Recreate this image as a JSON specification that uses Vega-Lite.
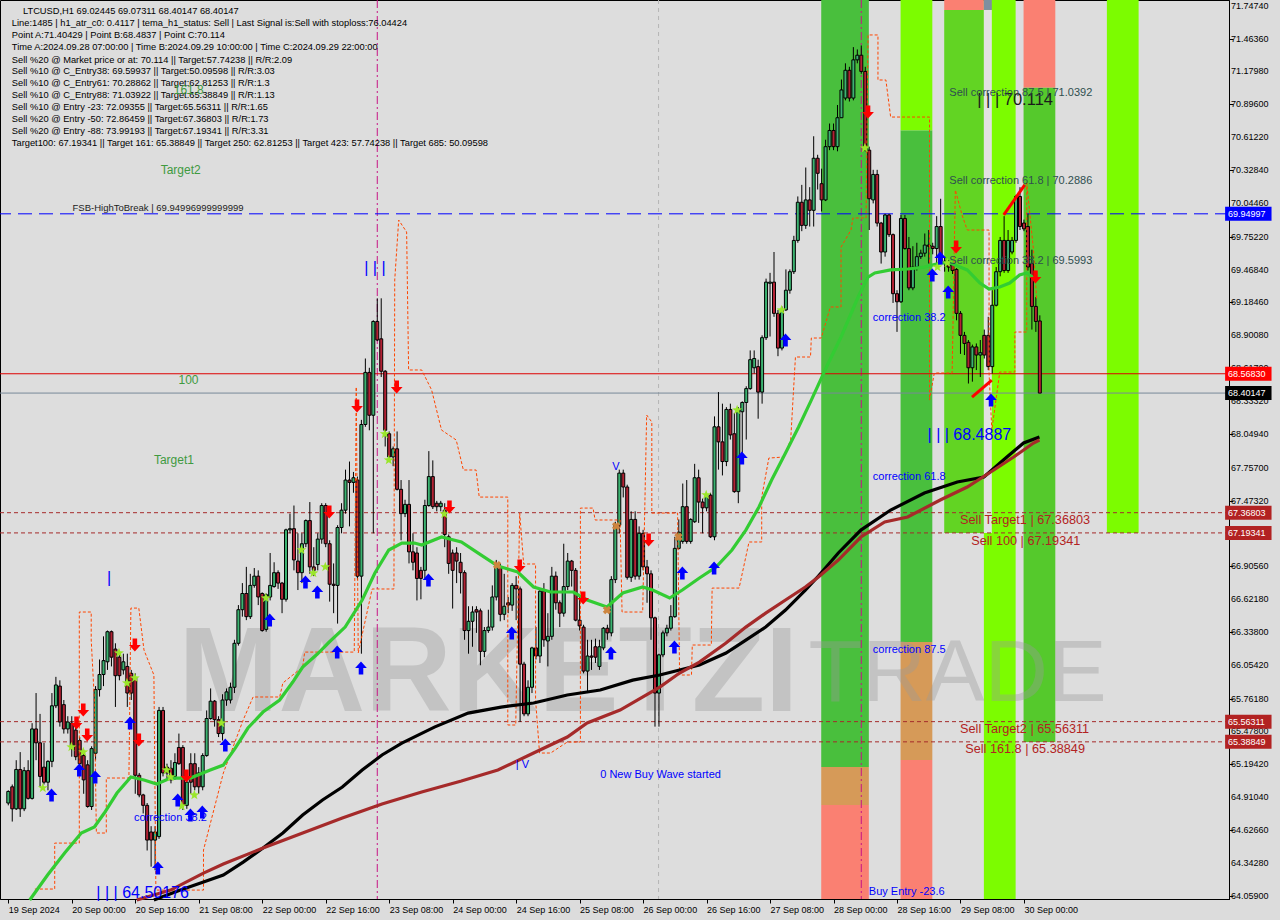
{
"$schema":"https://vega.github.io/schema/vega-lite/v6.json",
"width":1229,"height":899,
"autosize":{"type":"none"},
"padding":{"left":0,"top":0,"right":51,"bottom":21},
"background":"#dcdcdc",
"config":{"view":{"stroke":"#000000","strokeWidth":1,"fill":"#dddddd"},"font":"Liberation Sans",
 "axis":{"labelOverlap":false,"labelFlush":false,"grid":false,"title":null,"labelFontSize":9,"labelFont":"Liberation Sans","labelColor":"#000000","tickColor":"#000000","domainColor":"#000000","tickSize":4}},
"resolve":{"scale":{"color":"independent"}},
"datasets":{
"bands":[
{"h1":204.9,"h2":216.9,"p1":65.171,"p2":71.797,"k":"green"},
{"h1":204.9,"h2":216.9,"p1":64.843,"p2":65.171,"k":"orange"},
{"h1":204.9,"h2":216.9,"p1":64.031,"p2":64.843,"k":"salmon"},
{"h1":224.9,"h2":232.9,"p1":70.67,"p2":71.797,"k":"lime"},
{"h1":224.9,"h2":232.9,"p1":66.251,"p2":70.67,"k":"green"},
{"h1":224.9,"h2":232.9,"p1":65.231,"p2":66.251,"k":"orange"},
{"h1":224.9,"h2":232.9,"p1":64.031,"p2":65.231,"k":"salmon"},
{"h1":235.9,"h2":245.9,"p1":71.711,"p2":71.797,"k":"salmon"},
{"h1":235.9,"h2":245.9,"p1":67.193,"p2":71.711,"k":"green2"},
{"h1":245.9,"h2":253.9,"p1":64.031,"p2":71.797,"k":"lime"},
{"h1":245.9,"h2":247.9,"p1":67.193,"p2":71.711,"k":"gray"},
{"h1":245.9,"h2":247.9,"p1":71.711,"p2":71.797,"k":"slate"},
{"h1":255.9,"h2":263.9,"p1":71.039,"p2":71.797,"k":"salmon"},
{"h1":255.9,"h2":263.9,"p1":65.388,"p2":71.039,"k":"green3"},
{"h1":276.9,"h2":284.9,"p1":67.193,"p2":71.797,"k":"lime"}
],
"wm":[{"h":42.9,"p":65.97,"t":"MARKETZI","k":"b"},{"h":201.7,"p":65.97,"t":"TRADE","k":"n"}],
"lv":[{"p":69.94997,"k":"fsb"},{"p":68.5683,"k":"cur"},{"p":68.40147,"k":"bid"},{"p":67.36803,"k":"tg"},{"p":67.19341,"k":"tg"},{"p":65.56311,"k":"tg"},{"p":65.38849,"k":"tg"}],
"vl":[{"h":93.0,"k":"mv"},{"h":215.0,"k":"mv"},{"h":163.9,"k":"gr"}],
"yl":[{"p":71.7474,"t":"71.74740"},{"p":71.4636,"t":"71.46360"},{"p":71.1798,"t":"71.17980"},{"p":70.896,"t":"70.89600"},{"p":70.6122,"t":"70.61220"},{"p":70.3284,"t":"70.32840"},{"p":70.0446,"t":"70.04460"},{"p":69.7522,"t":"69.75220"},{"p":69.4684,"t":"69.46840"},{"p":69.1846,"t":"69.18460"},{"p":68.9008,"t":"68.90080"},{"p":68.617,"t":"68.61700"},{"p":68.3332,"t":"68.33320"},{"p":68.0494,"t":"68.04940"},{"p":67.757,"t":"67.75700"},{"p":67.4732,"t":"67.47320"},{"p":67.1894,"t":"67.18940"},{"p":66.9056,"t":"66.90560"},{"p":66.6218,"t":"66.62180"},{"p":66.338,"t":"66.33800"},{"p":66.0542,"t":"66.05420"},{"p":65.7618,"t":"65.76180"},{"p":65.478,"t":"65.47800"},{"p":65.1942,"t":"65.19420"},{"p":64.9104,"t":"64.91040"},{"p":64.6266,"t":"64.62660"},{"p":64.3428,"t":"64.34280"},{"p":64.059,"t":"64.05900"}],
"stl":[
{"k":1,"h":6.7,"p":64.117},{"k":2,"h":11.7,"p":64.117},{"k":3,"h":11.7,"p":64.514},{"k":4,"h":17.9,"p":64.514},{"k":5,"h":17.9,"p":66.51},{"k":6,"h":20.9,"p":66.51},{"k":7,"h":20.9,"p":66.268},{"k":8,"h":21.7,"p":65.75},{"k":9,"h":22.2,"p":64.601},{"k":10,"h":24.7,"p":64.601},
{"k":11,"h":24.7,"p":65.076},{"k":12,"h":30.4,"p":65.076},{"k":13,"h":30.9,"p":66.544},{"k":14,"h":32.9,"p":66.544},{"k":15,"h":34.2,"p":66.182},{"k":16,"h":36.7,"p":65.966},{"k":17,"h":37.2,"p":64.108},{"k":18,"h":49.2,"p":64.108},{"k":19,"h":49.2,"p":64.454},{"k":20,"h":54.2,"p":65.119},
{"k":21,"h":59.2,"p":65.577},{"k":22,"h":61.7,"p":65.776},{"k":23,"h":68.4,"p":65.776},{"k":24,"h":69.2,"p":65.897},{"k":25,"h":74.2,"p":66.035},{"k":26,"h":74.7,"p":66.164},{"k":27,"h":87.2,"p":66.164},{"k":28,"h":87.7,"p":68.454},{"k":29,"h":88.2,"p":66.156},{"k":30,"h":91.7,"p":66.709},
{"k":31,"h":97.2,"p":66.709},{"k":32,"h":97.4,"p":69.378},{"k":33,"h":98.4,"p":69.896},{"k":34,"h":100.4,"p":69.793},{"k":35,"h":100.9,"p":68.601},{"k":36,"h":104.2,"p":68.601},{"k":37,"h":106.7,"p":68.428},{"k":38,"h":109.2,"p":68.082},{"k":39,"h":112.9,"p":67.996},{"k":40,"h":114.7,"p":67.737},
{"k":41,"h":117.9,"p":67.737},{"k":42,"h":118.7,"p":67.503},{"k":43,"h":125.9,"p":67.503},{"k":44,"h":125.9,"p":65.534},{"k":45,"h":127.9,"p":65.534},{"k":46,"h":128.9,"p":67.365},{"k":47,"h":129.9,"p":66.925},{"k":48,"h":132.9,"p":66.925},{"k":49,"h":132.9,"p":65.75},{"k":50,"h":133.9,"p":65.292},
{"k":51,"h":136.7,"p":65.292},{"k":52,"h":140.9,"p":65.387},{"k":53,"h":144.2,"p":65.387},{"k":54,"h":144.2,"p":67.408},{"k":55,"h":147.4,"p":67.408},{"k":56,"h":147.9,"p":67.305},{"k":57,"h":154.2,"p":67.305},{"k":58,"h":154.7,"p":66.51},{"k":59,"h":159.9,"p":66.51},{"k":60,"h":160.9,"p":68.212},
{"k":61,"h":162.2,"p":68.151},{"k":62,"h":162.2,"p":67.365},{"k":63,"h":168.7,"p":67.365},{"k":64,"h":169.2,"p":65.966},{"k":65,"h":172.2,"p":65.966},{"k":66,"h":172.4,"p":66.225},{"k":67,"h":177.2,"p":66.225},{"k":68,"h":177.4,"p":66.717},{"k":69,"h":184.2,"p":66.717},{"k":70,"h":186.7,"p":67.115},
{"k":71,"h":189.9,"p":67.115},{"k":72,"h":189.9,"p":67.503},{"k":73,"h":191.7,"p":67.84},{"k":74,"h":195.4,"p":67.849},{"k":75,"h":197.2,"p":67.996},{"k":76,"h":198.4,"p":68.713},{"k":77,"h":202.2,"p":68.713},{"k":78,"h":202.4,"p":68.877},{"k":79,"h":204.9,"p":68.877},{"k":80,"h":207.2,"p":69.145},
{"k":81,"h":209.9,"p":69.145},{"k":82,"h":209.9,"p":69.663},{"k":83,"h":212.4,"p":69.81},{"k":84,"h":212.9,"p":69.914},{"k":85,"h":216.2,"p":69.914},{"k":86,"h":216.7,"p":71.495},{"k":87,"h":219.2,"p":71.495},{"k":88,"h":219.2,"p":71.106},{"k":89,"h":221.2,"p":71.106},{"k":90,"h":222.4,"p":70.786},
{"k":91,"h":232.2,"p":70.786},{"k":92,"h":232.2,"p":68.341},{"k":93,"h":233.4,"p":68.575},{"k":94,"h":237.9,"p":68.575},{"k":95,"h":238.7,"p":70.156},{"k":96,"h":240.4,"p":69.94},{"k":97,"h":241.7,"p":69.81},{"k":98,"h":247.2,"p":69.81},{"k":99,"h":247.2,"p":68.575},{"k":100,"h":247.9,"p":68.082},
{"k":101,"h":249.9,"p":68.583},{"k":102,"h":253.7,"p":68.583},{"k":103,"h":253.7,"p":68.929},{"k":104,"h":256.7,"p":68.929},{"k":105,"h":256.7,"p":70.216},{"k":106,"h":258.4,"p":69.637},{"k":107,"h":259.2,"p":69.205}
],
"ma":[
{"s":"g","h":5.4,"p":64.022},{"s":"g","h":9.9,"p":64.238},{"s":"g","h":14.2,"p":64.428},{"s":"g","h":18.4,"p":64.601},{"s":"g","h":21.7,"p":64.653},{"s":"g","h":24.2,"p":64.774},{"s":"g","h":27.4,"p":64.946},{"s":"g","h":30.9,"p":65.085},{"s":"g","h":34.2,"p":65.059},{"s":"g","h":37.4,"p":65.024},{"s":"g","h":40.9,"p":65.076},{"s":"g","h":45.9,"p":65.076},{"s":"g","h":50.9,"p":65.145},{"s":"g","h":54.2,"p":65.188},{"s":"g","h":57.2,"p":65.335},{"s":"g","h":60.4,"p":65.508},{"s":"g","h":64.2,"p":65.646},{"s":"g","h":68.4,"p":65.75},{"s":"g","h":71.7,"p":65.905},{"s":"g","h":74.2,"p":66.035},{"s":"g","h":77.9,"p":66.147},{"s":"g","h":80.9,"p":66.251},{"s":"g","h":84.9,"p":66.38},{"s":"g","h":89.2,"p":66.614},{"s":"g","h":92.4,"p":66.847},{"s":"g","h":95.9,"p":67.046},{"s":"g","h":99.2,"p":67.106},{"s":"g","h":102.4,"p":67.106},{"s":"g","h":104.2,"p":67.089},{"s":"g","h":109.2,"p":67.158},{"s":"g","h":114.2,"p":67.115},{"s":"g","h":119.2,"p":67.002},{"s":"g","h":123.4,"p":66.907},{"s":"g","h":128.4,"p":66.856},{"s":"g","h":132.4,"p":66.726},{"s":"g","h":136.7,"p":66.683},{"s":"g","h":142.4,"p":66.683},{"s":"g","h":145.9,"p":66.614},{"s":"g","h":150.9,"p":66.553},{"s":"g","h":154.9,"p":66.674},{"s":"g","h":159.9,"p":66.726},{"s":"g","h":162.4,"p":66.7},{"s":"g","h":166.7,"p":66.631},{"s":"g","h":169.9,"p":66.7},{"s":"g","h":174.2,"p":66.804},{"s":"g","h":178.4,"p":66.899},{"s":"g","h":182.4,"p":67.046},{"s":"g","h":185.9,"p":67.218},{"s":"g","h":189.2,"p":67.417},{"s":"g","h":192.4,"p":67.65},{"s":"g","h":195.9,"p":67.884},{"s":"g","h":199.2,"p":68.108},{"s":"g","h":202.4,"p":68.341},{"s":"g","h":206.7,"p":68.661},{"s":"g","h":209.9,"p":68.886},{"s":"g","h":214.2,"p":69.231},{"s":"g","h":216.7,"p":69.404},{"s":"g","h":218.4,"p":69.439},{"s":"g","h":222.4,"p":69.465},{"s":"g","h":226.7,"p":69.473},{"s":"g","h":230.9,"p":69.49},{"s":"g","h":234.9,"p":69.525},{"s":"g","h":237.4,"p":69.525},{"s":"g","h":241.7,"p":69.465},{"s":"g","h":244.9,"p":69.352},{"s":"g","h":247.2,"p":69.3},{"s":"g","h":249.9,"p":69.318},{"s":"g","h":252.4,"p":69.352},{"s":"g","h":254.9,"p":69.421},{"s":"g","h":256.7,"p":69.439},{"s":"g","h":259.2,"p":69.378},
{"s":"k","h":36.7,"p":64.022},{"s":"k","h":43.4,"p":64.108},{"s":"k","h":49.2,"p":64.177},{"s":"k","h":54.2,"p":64.238},{"s":"k","h":59.2,"p":64.35},{"s":"k","h":64.2,"p":64.471},{"s":"k","h":69.2,"p":64.601},{"s":"k","h":74.2,"p":64.756},{"s":"k","h":79.2,"p":64.886},{"s":"k","h":84.2,"p":64.998},{"s":"k","h":89.2,"p":65.145},{"s":"k","h":94.2,"p":65.275},{"s":"k","h":99.2,"p":65.378},{"s":"k","h":107.4,"p":65.516},{"s":"k","h":115.9,"p":65.637},{"s":"k","h":124.2,"p":65.689},{"s":"k","h":132.4,"p":65.724},{"s":"k","h":140.9,"p":65.793},{"s":"k","h":149.2,"p":65.836},{"s":"k","h":157.4,"p":65.922},{"s":"k","h":164.2,"p":65.966},{"s":"k","h":174.2,"p":66.052},{"s":"k","h":180.9,"p":66.156},{"s":"k","h":185.9,"p":66.268},{"s":"k","h":190.9,"p":66.38},{"s":"k","h":195.9,"p":66.527},{"s":"k","h":200.9,"p":66.7},{"s":"k","h":204.2,"p":66.821},{"s":"k","h":209.2,"p":67.02},{"s":"k","h":214.9,"p":67.218},{"s":"k","h":222.4,"p":67.391},{"s":"k","h":230.9,"p":67.538},{"s":"k","h":239.2,"p":67.633},{"s":"k","h":245.9,"p":67.676},{"s":"k","h":251.7,"p":67.849},{"s":"k","h":255.9,"p":67.97},{"s":"k","h":259.9,"p":68.022},
{"s":"r","h":32.4,"p":64.022},{"s":"r","h":40.9,"p":64.108},{"s":"r","h":49.2,"p":64.255},{"s":"r","h":54.2,"p":64.333},{"s":"r","h":64.2,"p":64.471},{"s":"r","h":74.2,"p":64.601},{"s":"r","h":84.2,"p":64.73},{"s":"r","h":94.2,"p":64.851},{"s":"r","h":104.2,"p":64.955},{"s":"r","h":114.2,"p":65.05},{"s":"r","h":123.4,"p":65.145},{"s":"r","h":132.4,"p":65.292},{"s":"r","h":140.9,"p":65.43},{"s":"r","h":145.9,"p":65.551},{"s":"r","h":154.2,"p":65.663},{"s":"r","h":164.2,"p":65.862},{"s":"r","h":169.2,"p":65.983},{"s":"r","h":174.2,"p":66.078},{"s":"r","h":180.9,"p":66.242},{"s":"r","h":185.9,"p":66.38},{"s":"r","h":190.9,"p":66.501},{"s":"r","h":195.9,"p":66.614},{"s":"r","h":200.9,"p":66.726},{"s":"r","h":204.2,"p":66.812},{"s":"r","h":209.2,"p":66.959},{"s":"r","h":214.9,"p":67.158},{"s":"r","h":220.9,"p":67.288},{"s":"r","h":226.7,"p":67.331},{"s":"r","h":234.9,"p":67.478},{"s":"r","h":241.7,"p":67.59},{"s":"r","h":248.4,"p":67.737},{"s":"r","h":253.4,"p":67.849},{"s":"r","h":258.4,"p":67.97},{"s":"r","h":259.9,"p":67.996}
],
"cd":[
{"h":0,"o":64.86,"hi":64.97,"lo":64.84,"c":64.96},{"h":1,"o":65.0,"hi":65.02,"lo":64.7,"c":64.81},{"h":2,"o":64.81,"hi":65.23,"lo":64.8,"c":65.15},{"h":3,"o":65.15,"hi":65.3,"lo":64.74,"c":64.81},{"h":4,"o":64.81,"hi":65.17,"lo":64.79,"c":65.14},{"h":5,"o":65.14,"hi":65.23,"lo":64.89,"c":64.9},{"h":6,"o":64.9,"hi":65.55,"lo":64.89,"c":65.5},{"h":7,"o":65.5,"hi":65.81,"lo":65.23,"c":65.38},{"h":8,"o":65.38,"hi":65.63,"lo":65.0,"c":65.09},{"h":9,"o":65.17,"hi":65.38,"lo":65.02,"c":65.04},
{"h":10,"o":65.04,"hi":65.23,"lo":64.97,"c":65.22},{"h":11,"o":65.22,"hi":65.81,"lo":65.17,"c":65.7},{"h":12,"o":65.7,"hi":65.95,"lo":65.68,"c":65.88},{"h":13,"o":65.87,"hi":65.92,"lo":65.52,"c":65.56},{"h":14,"o":65.71,"hi":65.75,"lo":65.46,"c":65.5},{"h":15,"o":65.5,"hi":65.61,"lo":65.46,"c":65.56},{"h":16,"o":65.55,"hi":65.61,"lo":65.26,"c":65.35},{"h":17,"o":65.49,"hi":65.52,"lo":65.23,"c":65.26},{"h":18,"o":65.4,"hi":65.43,"lo":65.12,"c":65.2},{"h":19,"o":65.27,"hi":65.32,"lo":64.94,"c":65.06},
{"h":20,"o":65.19,"hi":65.23,"lo":64.82,"c":64.83},{"h":21,"o":64.83,"hi":65.35,"lo":64.8,"c":65.33},{"h":22,"o":65.29,"hi":65.87,"lo":65.23,"c":65.84},{"h":23,"o":65.84,"hi":66.1,"lo":65.78,"c":65.97},{"h":24,"o":65.97,"hi":66.3,"lo":65.87,"c":66.09},{"h":25,"o":66.08,"hi":66.35,"lo":66.01,"c":66.34},{"h":26,"o":66.34,"hi":66.35,"lo":66.04,"c":66.12},{"h":27,"o":66.19,"hi":66.24,"lo":65.69,"c":65.96},{"h":28,"o":66.12,"hi":66.15,"lo":65.92,"c":65.96},{"h":29,"o":66.01,"hi":66.15,"lo":65.97,"c":66.08},
{"h":30,"o":66.04,"hi":66.15,"lo":65.69,"c":65.81},{"h":31,"o":65.98,"hi":66.01,"lo":65.75,"c":65.81},{"h":32,"o":65.94,"hi":65.98,"lo":64.94,"c":65.1},{"h":33,"o":65.1,"hi":65.12,"lo":64.91,"c":64.93},{"h":34,"o":64.93,"hi":64.94,"lo":64.77,"c":64.84},{"h":35,"o":64.84,"hi":64.86,"lo":64.45,"c":64.54},{"h":36,"o":64.61,"hi":64.66,"lo":64.31,"c":64.54},{"h":37,"o":64.54,"hi":64.66,"lo":64.28,"c":64.61},{"h":38,"o":64.57,"hi":65.69,"lo":64.55,"c":65.66},{"h":39,"o":65.66,"hi":65.69,"lo":65.09,"c":65.12},
{"h":40,"o":65.17,"hi":65.2,"lo":65.06,"c":65.12},{"h":41,"o":65.16,"hi":65.23,"lo":65.03,"c":65.06},{"h":42,"o":65.09,"hi":65.29,"lo":65.06,"c":65.21},{"h":43,"o":65.34,"hi":65.46,"lo":65.19,"c":65.2},{"h":44,"o":65.34,"hi":65.36,"lo":64.8,"c":64.84},{"h":45,"o":64.84,"hi":65.12,"lo":64.81,"c":65.04},{"h":46,"o":65.2,"hi":65.29,"lo":64.94,"c":65.04},{"h":47,"o":65.2,"hi":65.29,"lo":64.97,"c":65.0},{"h":48,"o":65.12,"hi":65.17,"lo":64.94,"c":65.0},{"h":49,"o":65.0,"hi":65.29,"lo":64.97,"c":65.27},
{"h":50,"o":65.27,"hi":65.66,"lo":65.26,"c":65.59},{"h":51,"o":65.59,"hi":65.85,"lo":65.58,"c":65.74},{"h":52,"o":65.74,"hi":65.75,"lo":65.52,"c":65.58},{"h":53,"o":65.58,"hi":65.61,"lo":65.43,"c":65.46},{"h":54,"o":65.46,"hi":65.8,"lo":65.4,"c":65.75},{"h":55,"o":65.75,"hi":65.85,"lo":65.7,"c":65.82},{"h":56,"o":65.75,"hi":65.9,"lo":65.72,"c":65.86},{"h":57,"o":65.86,"hi":66.27,"lo":65.81,"c":66.24},{"h":58,"o":66.24,"hi":66.57,"lo":66.22,"c":66.53},{"h":59,"o":66.53,"hi":66.76,"lo":66.47,"c":66.67},
{"h":60,"o":66.67,"hi":66.9,"lo":66.44,"c":66.47},{"h":61,"o":66.47,"hi":66.84,"lo":66.45,"c":66.74},{"h":62,"o":66.74,"hi":66.89,"lo":66.72,"c":66.82},{"h":63,"o":66.82,"hi":66.87,"lo":66.57,"c":66.64},{"h":64,"o":66.67,"hi":66.68,"lo":66.34,"c":66.35},{"h":65,"o":66.36,"hi":66.67,"lo":66.34,"c":66.66},{"h":66,"o":66.64,"hi":67.02,"lo":66.61,"c":66.74},{"h":67,"o":66.73,"hi":66.94,"lo":66.72,"c":66.85},{"h":68,"o":66.85,"hi":66.87,"lo":66.71,"c":66.76},{"h":69,"o":66.76,"hi":66.77,"lo":66.5,"c":66.62},
{"h":70,"o":66.62,"hi":67.23,"lo":66.6,"c":67.22},{"h":71,"o":67.22,"hi":67.36,"lo":67.19,"c":67.23},{"h":72,"o":67.23,"hi":67.43,"lo":66.87,"c":66.96},{"h":73,"o":66.95,"hi":67.19,"lo":66.7,"c":66.85},{"h":74,"o":66.85,"hi":67.19,"lo":66.76,"c":67.1},{"h":75,"o":67.1,"hi":67.31,"lo":67.07,"c":67.3},{"h":76,"o":67.3,"hi":67.46,"lo":66.84,"c":66.9},{"h":77,"o":66.9,"hi":67.07,"lo":66.82,"c":66.87},{"h":78,"o":66.92,"hi":67.19,"lo":66.87,"c":67.14},{"h":79,"o":67.14,"hi":67.45,"lo":67.1,"c":67.43},
{"h":80,"o":67.43,"hi":67.45,"lo":67.07,"c":67.1},{"h":81,"o":67.1,"hi":67.13,"lo":66.6,"c":66.75},{"h":82,"o":66.75,"hi":66.93,"lo":66.5,"c":66.74},{"h":83,"o":66.74,"hi":67.26,"lo":66.41,"c":67.24},{"h":84,"o":67.24,"hi":67.45,"lo":67.19,"c":67.39},{"h":85,"o":67.39,"hi":67.74,"lo":67.36,"c":67.65},{"h":86,"o":67.65,"hi":67.81,"lo":67.25,"c":67.63},{"h":87,"o":67.63,"hi":67.72,"lo":67.54,"c":67.67},{"h":88,"o":67.65,"hi":67.68,"lo":66.79,"c":66.82},{"h":89,"o":66.82,"hi":68.17,"lo":66.15,"c":68.13},
{"h":90,"o":68.13,"hi":68.7,"lo":68.11,"c":68.58},{"h":91,"o":68.58,"hi":68.62,"lo":68.08,"c":68.21},{"h":92,"o":68.21,"hi":69.03,"lo":67.19,"c":69.02},{"h":93,"o":69.02,"hi":69.22,"lo":68.85,"c":68.86},{"h":94,"o":68.87,"hi":69.22,"lo":68.54,"c":68.59},{"h":95,"o":68.59,"hi":68.6,"lo":67.94,"c":68.08},{"h":96,"o":68.05,"hi":68.07,"lo":67.82,"c":67.85},{"h":97,"o":67.85,"hi":67.94,"lo":67.77,"c":67.92},{"h":98,"o":67.92,"hi":68.07,"lo":67.56,"c":67.57},{"h":99,"o":67.57,"hi":67.65,"lo":67.13,"c":67.36},
{"h":100,"o":67.36,"hi":67.48,"lo":67.33,"c":67.44},{"h":101,"o":67.44,"hi":67.65,"lo":66.93,"c":67.03},{"h":102,"o":67.03,"hi":67.19,"lo":66.87,"c":66.94},{"h":103,"o":67.02,"hi":67.07,"lo":66.61,"c":66.8},{"h":104,"o":66.87,"hi":66.9,"lo":66.62,"c":66.8},{"h":105,"o":66.87,"hi":67.48,"lo":66.8,"c":67.43},{"h":106,"o":67.43,"hi":67.9,"lo":67.42,"c":67.68},{"h":107,"o":67.68,"hi":67.82,"lo":67.4,"c":67.42},{"h":108,"o":67.45,"hi":67.47,"lo":67.38,"c":67.42},{"h":109,"o":67.42,"hi":67.47,"lo":67.38,"c":67.45},
{"h":110,"o":67.39,"hi":67.45,"lo":67.07,"c":67.18},{"h":111,"o":67.16,"hi":67.18,"lo":66.84,"c":66.93},{"h":112,"o":67.02,"hi":67.05,"lo":66.54,"c":66.87},{"h":113,"o":67.02,"hi":67.07,"lo":66.76,"c":66.95},{"h":114,"o":66.94,"hi":67.02,"lo":66.67,"c":66.85},{"h":115,"o":66.85,"hi":66.87,"lo":66.27,"c":66.35},{"h":116,"o":66.35,"hi":66.56,"lo":66.15,"c":66.43},{"h":117,"o":66.43,"hi":66.56,"lo":66.21,"c":66.51},{"h":118,"o":66.53,"hi":66.56,"lo":66.33,"c":66.51},{"h":119,"o":66.52,"hi":66.54,"lo":66.05,"c":66.17},
{"h":120,"o":66.17,"hi":66.38,"lo":66.12,"c":66.35},{"h":121,"o":66.35,"hi":66.53,"lo":66.33,"c":66.38},{"h":122,"o":66.38,"hi":66.74,"lo":66.35,"c":66.64},{"h":123,"o":66.64,"hi":66.96,"lo":66.61,"c":66.9},{"h":124,"o":66.9,"hi":66.93,"lo":66.43,"c":66.49},{"h":125,"o":66.49,"hi":66.84,"lo":66.44,"c":66.56},{"h":126,"o":66.59,"hi":66.64,"lo":66.5,"c":66.57},{"h":127,"o":66.57,"hi":66.76,"lo":66.52,"c":66.74},{"h":128,"o":66.74,"hi":66.82,"lo":66.44,"c":66.71},{"h":129,"o":66.71,"hi":66.73,"lo":65.56,"c":66.06},
{"h":130,"o":66.06,"hi":66.08,"lo":65.61,"c":65.63},{"h":131,"o":65.63,"hi":65.92,"lo":65.61,"c":65.86},{"h":132,"o":65.86,"hi":66.21,"lo":65.81,"c":66.2},{"h":133,"o":66.2,"hi":66.38,"lo":66.1,"c":66.13},{"h":134,"o":66.13,"hi":66.7,"lo":66.07,"c":66.69},{"h":135,"o":66.69,"hi":66.76,"lo":66.21,"c":66.27},{"h":136,"o":66.26,"hi":66.5,"lo":66.04,"c":66.3},{"h":137,"o":66.3,"hi":66.9,"lo":66.27,"c":66.82},{"h":138,"o":66.82,"hi":66.86,"lo":66.53,"c":66.59},{"h":139,"o":66.59,"hi":66.61,"lo":66.38,"c":66.5},
{"h":140,"o":66.5,"hi":67.1,"lo":66.47,"c":66.73},{"h":141,"o":66.73,"hi":67.02,"lo":66.7,"c":66.95},{"h":142,"o":66.95,"hi":66.96,"lo":66.73,"c":66.87},{"h":143,"o":66.87,"hi":66.89,"lo":66.43,"c":66.44},{"h":144,"o":66.44,"hi":66.64,"lo":66.35,"c":66.39},{"h":145,"o":66.38,"hi":66.4,"lo":65.98,"c":66.0},{"h":146,"o":66.0,"hi":66.27,"lo":65.81,"c":66.13},{"h":147,"o":66.13,"hi":66.27,"lo":66.01,"c":66.12},{"h":148,"o":66.21,"hi":66.28,"lo":66.07,"c":66.12},{"h":149,"o":66.04,"hi":66.27,"lo":66.01,"c":66.21},
{"h":150,"o":66.2,"hi":66.38,"lo":66.18,"c":66.37},{"h":151,"o":66.37,"hi":66.4,"lo":66.27,"c":66.33},{"h":152,"o":66.33,"hi":66.82,"lo":66.3,"c":66.79},{"h":153,"o":66.79,"hi":67.29,"lo":66.76,"c":67.26},{"h":154,"o":67.26,"hi":67.74,"lo":67.19,"c":67.71},{"h":155,"o":67.71,"hi":67.74,"lo":67.5,"c":67.59},{"h":156,"o":67.59,"hi":67.61,"lo":66.79,"c":66.81},{"h":157,"o":66.81,"hi":67.38,"lo":66.77,"c":67.31},{"h":158,"o":67.31,"hi":67.38,"lo":66.79,"c":66.82},{"h":159,"o":66.82,"hi":67.25,"lo":66.79,"c":67.19},
{"h":160,"o":67.19,"hi":67.22,"lo":66.87,"c":66.9},{"h":161,"o":66.9,"hi":66.96,"lo":66.59,"c":66.84},{"h":162,"o":66.84,"hi":66.87,"lo":66.27,"c":66.46},{"h":163,"o":66.46,"hi":66.47,"lo":65.52,"c":65.81},{"h":164,"o":65.81,"hi":66.15,"lo":65.52,"c":66.14},{"h":165,"o":66.14,"hi":66.35,"lo":66.12,"c":66.33},{"h":166,"o":66.33,"hi":66.4,"lo":66.3,"c":66.37},{"h":167,"o":66.37,"hi":66.57,"lo":66.35,"c":66.47},{"h":168,"o":66.47,"hi":67.16,"lo":66.46,"c":67.06},{"h":169,"o":67.06,"hi":67.31,"lo":67.05,"c":67.2},
{"h":170,"o":67.12,"hi":67.62,"lo":67.1,"c":67.42},{"h":171,"o":67.42,"hi":67.65,"lo":67.1,"c":67.12},{"h":172,"o":67.12,"hi":67.32,"lo":67.1,"c":67.31},{"h":173,"o":67.29,"hi":67.79,"lo":67.28,"c":67.67},{"h":174,"o":67.67,"hi":67.74,"lo":67.28,"c":67.46},{"h":175,"o":67.46,"hi":67.49,"lo":67.19,"c":67.41},{"h":176,"o":67.41,"hi":67.52,"lo":67.38,"c":67.51},{"h":177,"o":67.52,"hi":67.54,"lo":67.15,"c":67.16},{"h":178,"o":67.16,"hi":68.2,"lo":67.13,"c":68.11},{"h":179,"o":68.11,"hi":68.41,"lo":67.74,"c":67.98},
{"h":180,"o":67.98,"hi":68.31,"lo":67.69,"c":67.81},{"h":181,"o":67.81,"hi":68.28,"lo":67.77,"c":68.26},{"h":182,"o":68.26,"hi":68.31,"lo":68.0,"c":68.04},{"h":183,"o":68.05,"hi":68.23,"lo":67.54,"c":67.55},{"h":184,"o":67.55,"hi":68.28,"lo":67.45,"c":68.25},{"h":185,"o":68.24,"hi":68.33,"lo":67.88,"c":68.32},{"h":186,"o":68.32,"hi":68.46,"lo":68.0,"c":68.44},{"h":187,"o":68.44,"hi":68.77,"lo":68.43,"c":68.69},{"h":188,"o":68.62,"hi":68.77,"lo":68.57,"c":68.7},{"h":189,"o":68.63,"hi":68.69,"lo":68.18,"c":68.41},
{"h":190,"o":68.41,"hi":68.9,"lo":68.31,"c":68.88},{"h":191,"o":68.88,"hi":69.39,"lo":68.86,"c":69.36},{"h":192,"o":69.35,"hi":69.44,"lo":68.89,"c":69.36},{"h":193,"o":69.36,"hi":69.62,"lo":69.06,"c":69.09},{"h":194,"o":69.09,"hi":69.12,"lo":68.72,"c":68.79},{"h":195,"o":68.79,"hi":69.15,"lo":68.77,"c":69.12},{"h":196,"o":69.12,"hi":69.47,"lo":69.11,"c":69.29},{"h":197,"o":69.29,"hi":69.47,"lo":69.26,"c":69.45},{"h":198,"o":69.45,"hi":69.76,"lo":69.43,"c":69.72},{"h":199,"o":69.72,"hi":70.1,"lo":69.7,"c":70.05},
{"h":200,"o":70.05,"hi":70.2,"lo":69.8,"c":69.85},{"h":201,"o":69.85,"hi":70.35,"lo":69.82,"c":70.07},{"h":202,"o":70.07,"hi":70.18,"lo":69.84,"c":69.98},{"h":203,"o":69.98,"hi":70.62,"lo":69.84,"c":70.43},{"h":204,"o":70.43,"hi":70.46,"lo":70.16,"c":70.3},{"h":205,"o":70.21,"hi":70.34,"lo":69.97,"c":70.07},{"h":206,"o":70.07,"hi":70.59,"lo":70.06,"c":70.53},{"h":207,"o":70.53,"hi":70.73,"lo":70.5,"c":70.67},{"h":208,"o":70.67,"hi":70.73,"lo":70.5,"c":70.53},{"h":209,"o":70.53,"hi":70.89,"lo":70.49,"c":70.78},
{"h":210,"o":70.78,"hi":71.11,"lo":70.78,"c":71.02},{"h":211,"o":70.95,"hi":71.25,"lo":70.93,"c":71.19},{"h":212,"o":71.19,"hi":71.22,"lo":70.92,"c":70.95},{"h":213,"o":70.95,"hi":71.39,"lo":70.93,"c":71.28},{"h":214,"o":71.28,"hi":71.37,"lo":71.25,"c":71.32},{"h":215,"o":71.32,"hi":71.404,"lo":71.16,"c":71.18},{"h":216,"o":71.18,"hi":71.22,"lo":70.49,"c":70.5},{"h":217,"o":70.5,"hi":70.53,"lo":69.81,"c":70.08},{"h":218,"o":70.07,"hi":70.33,"lo":70.04,"c":70.29},{"h":219,"o":70.29,"hi":70.33,"lo":69.84,"c":69.87},
{"h":220,"o":69.87,"hi":69.88,"lo":69.52,"c":69.62},{"h":221,"o":69.62,"hi":69.95,"lo":69.58,"c":69.94},{"h":222,"o":69.94,"hi":69.95,"lo":69.75,"c":69.77},{"h":223,"o":69.77,"hi":69.78,"lo":69.18,"c":69.26},{"h":224,"o":69.26,"hi":69.29,"lo":68.93,"c":69.19},{"h":225,"o":69.19,"hi":69.94,"lo":69.18,"c":69.91},{"h":226,"o":69.91,"hi":69.94,"lo":69.64,"c":69.65},{"h":227,"o":69.65,"hi":69.75,"lo":69.29,"c":69.31},{"h":228,"o":69.31,"hi":69.67,"lo":69.29,"c":69.49},{"h":229,"o":69.49,"hi":69.7,"lo":69.46,"c":69.58},
{"h":230,"o":69.58,"hi":69.64,"lo":69.56,"c":69.61},{"h":231,"o":69.61,"hi":69.78,"lo":69.58,"c":69.68},{"h":232,"o":69.68,"hi":69.81,"lo":69.52,"c":69.67},{"h":233,"o":69.67,"hi":69.7,"lo":69.6,"c":69.65},{"h":234,"o":69.65,"hi":69.93,"lo":69.52,"c":69.84},{"h":235,"o":69.84,"hi":70.08,"lo":69.52,"c":69.54},{"h":236,"o":69.52,"hi":69.58,"lo":69.45,"c":69.54},{"h":237,"o":69.52,"hi":69.55,"lo":69.45,"c":69.49},{"h":238,"o":69.51,"hi":69.52,"lo":69.43,"c":69.46},{"h":239,"o":69.47,"hi":69.48,"lo":69.03,"c":69.09},
{"h":240,"o":69.09,"hi":69.11,"lo":68.74,"c":68.9},{"h":241,"o":68.9,"hi":68.93,"lo":68.73,"c":68.83},{"h":242,"o":68.84,"hi":68.86,"lo":68.484,"c":68.62},{"h":243,"o":68.62,"hi":68.82,"lo":68.5,"c":68.8},{"h":244,"o":68.8,"hi":68.83,"lo":68.6,"c":68.73},{"h":245,"o":68.73,"hi":68.86,"lo":68.54,"c":68.75},{"h":246,"o":68.9,"hi":68.95,"lo":68.7,"c":68.73},{"h":247,"o":68.9,"hi":69.06,"lo":68.6,"c":68.63},{"h":248,"o":68.63,"hi":69.29,"lo":68.57,"c":69.16},{"h":249,"o":69.16,"hi":69.49,"lo":69.15,"c":69.45},
{"h":250,"o":69.45,"hi":69.75,"lo":69.41,"c":69.72},{"h":251,"o":69.72,"hi":69.93,"lo":69.44,"c":69.46},{"h":252,"o":69.46,"hi":69.81,"lo":69.44,"c":69.72},{"h":253,"o":69.62,"hi":69.75,"lo":69.6,"c":69.72},{"h":254,"o":69.72,"hi":70.114,"lo":69.7,"c":70.1},{"h":255,"o":70.1,"hi":70.18,"lo":69.81,"c":69.84},{"h":256,"o":69.87,"hi":69.9,"lo":69.8,"c":69.82},{"h":257,"o":69.84,"hi":69.95,"lo":69.46,"c":69.49},{"h":258,"o":69.52,"hi":69.64,"lo":68.95,"c":69.15},{"h":259,"o":69.15,"hi":69.23,"lo":68.93,"c":69.02},
{"h":260,"o":69.02445,"hi":69.07311,"lo":68.40147,"c":68.40147}
],
"abc":[{"s":"a","h":242.9,"p":68.367},{"s":"a","h":247.9,"p":68.514},{"s":"b","h":250.9,"p":69.94},{"s":"b","h":256.2,"p":70.199}],
"ar":[
{"h":10.9,"p":64.929,"d":"up"},{"h":17.9,"p":65.145,"d":"up"},{"h":21.9,"p":65.085,"d":"up"},{"h":30.7,"p":65.551,"d":"up"},{"h":37.7,"p":64.298,"d":"up"},{"h":42.7,"p":64.886,"d":"up"},{"h":45.9,"p":64.756,"d":"up"},{"h":48.9,"p":64.782,"d":"up"},{"h":54.7,"p":65.361,"d":"up"},{"h":65.9,"p":66.441,"d":"up"},{"h":74.9,"p":66.769,"d":"up"},{"h":77.9,"p":66.683,"d":"up"},{"h":82.9,"p":66.164,"d":"up"},{"h":88.9,"p":66.026,"d":"up"},{"h":105.9,"p":66.786,"d":"up"},{"h":126.9,"p":66.329,"d":"up"},{"h":151.9,"p":66.156,"d":"up"},{"h":167.9,"p":66.208,"d":"up"},{"h":169.9,"p":66.847,"d":"up"},{"h":177.9,"p":66.89,"d":"up"},{"h":184.9,"p":67.84,"d":"up"},{"h":195.9,"p":68.86,"d":"up"},{"h":232.9,"p":69.421,"d":"up"},{"h":234.9,"p":69.568,"d":"up"},{"h":236.9,"p":69.274,"d":"up"},{"h":247.7,"p":68.341,"d":"up"},
{"h":17.2,"p":65.551,"d":"dn"},{"h":18.9,"p":65.663,"d":"dn"},{"h":19.9,"p":65.447,"d":"dn"},{"h":31.9,"p":66.225,"d":"dn"},{"h":32.9,"p":65.404,"d":"dn"},{"h":44.9,"p":65.093,"d":"dn"},{"h":80.9,"p":67.374,"d":"dn"},{"h":87.9,"p":68.29,"d":"dn"},{"h":97.9,"p":68.454,"d":"dn"},{"h":111.2,"p":67.417,"d":"dn"},{"h":128.9,"p":66.907,"d":"dn"},{"h":144.9,"p":66.631,"d":"dn"},{"h":161.4,"p":67.132,"d":"dn"},{"h":216.7,"p":70.829,"d":"dn"},{"h":238.9,"p":69.663,"d":"dn"},{"h":258.9,"p":69.404,"d":"dn"}
],
"st":[
{"h":8.7,"p":64.99,"k":"s"},{"h":15.9,"p":65.344,"k":"s"},{"h":18.9,"p":65.3,"k":"s"},{"h":27.9,"p":66.156,"k":"s"},{"h":29.9,"p":65.896,"k":"s"},{"h":31.9,"p":65.94,"k":"s"},{"h":39.9,"p":65.145,"k":"s"},{"h":40.9,"p":65.085,"k":"s"},{"h":43.7,"p":64.834,"k":"s"},{"h":46.9,"p":64.929,"k":"s"},{"h":53.7,"p":65.551,"k":"s"},{"h":64.9,"p":66.631,"k":"s"},{"h":73.9,"p":67.046,"k":"s"},{"h":76.9,"p":66.847,"k":"s"},{"h":79.9,"p":66.899,"k":"s"},{"h":94.9,"p":68.048,"k":"s"},{"h":95.9,"p":67.823,"k":"s"},{"h":109.9,"p":67.357,"k":"s"},{"h":175.9,"p":67.521,"k":"s"},{"h":183.7,"p":68.255,"k":"s"},{"h":194.9,"p":69.119,"k":"s"},{"h":215.9,"p":70.518,"k":"s"},{"h":234.2,"p":69.49,"k":"s"},{"h":236.7,"p":69.525,"k":"s"},
{"h":123.2,"p":66.916,"k":"x"},{"h":150.9,"p":66.527,"k":"x"},{"h":153.2,"p":67.253,"k":"x"},{"h":168.9,"p":67.158,"k":"x"}
],
"tx":[
{"h":3.7,"p":71.705,"g":"info","t":"LTCUSD,H1  69.02445 69.07311 68.40147 68.40147"},
{"h":0.9,"p":71.596,"g":"info","t":"Line:1485 | h1_atr_c0: 0.4117 | tema_h1_status: Sell | Last Signal is:Sell with stoploss:76.04424"},
{"h":0.9,"p":71.492,"g":"info","t":"Point A:71.40429 | Point B:68.4837 | Point C:70.114"},
{"h":0.9,"p":71.388,"g":"info","t":"Time A:2024.09.28 07:00:00 | Time B:2024.09.29 10:00:00 | Time C:2024.09.29 22:00:00"},
{"h":0.9,"p":71.279,"g":"info","t":"Sell %20 @ Market price or at: 70.114 || Target:57.74238 || R/R:2.09"},
{"h":0.9,"p":71.181,"g":"info","t":"Sell %10 @ C_Entry38: 69.59937 || Target:50.09598 || R/R:3.03"},
{"h":0.9,"p":71.077,"g":"info","t":"Sell %10 @ C_Entry61: 70.28862 || Target:62.81253 || R/R:1.3"},
{"h":0.9,"p":70.974,"g":"info","t":"Sell %10 @ C_Entry88: 71.03922 || Target:65.38849 || R/R:1.13"},
{"h":0.9,"p":70.87,"g":"info","t":"Sell %10 @ Entry -23: 72.09355 || Target:65.56311 || R/R:1.65"},
{"h":0.9,"p":70.766,"g":"info","t":"Sell %20 @ Entry -50: 72.86459 || Target:67.36803 || R/R:1.73"},
{"h":0.9,"p":70.663,"g":"info","t":"Sell %20 @ Entry -88: 73.99193 || Target:67.19341 || R/R:3.31"},
{"h":0.9,"p":70.559,"g":"info","t":"Target100: 67.19341 || Target 161: 65.38849 || Target 250: 62.81253 || Target 423: 57.74238 || Target 685: 50.09598"},
{"h":38.4,"p":70.328,"g":"tg","t":"Target2"},
{"h":36.7,"p":67.823,"g":"tg","t":"Target1"},
{"h":42.9,"p":68.514,"g":"tg","t":"100"},
{"h":41.7,"p":71.02,"g":"tg","t":"161.8"},
{"h":16.2,"p":70.0,"g":"fsb","t":"FSB-HighToBreak | 69.94996999999999"},
{"h":31.7,"p":64.73,"g":"bs","t":"correction 38.2"},
{"h":149.2,"p":65.102,"g":"bs","t":"0 New Buy Wave started"},
{"h":217.9,"p":69.05,"g":"bs","t":"correction 38.2"},
{"h":217.9,"p":67.676,"g":"bs","t":"correction 61.8"},
{"h":217.9,"p":66.182,"g":"bs","t":"correction 87.5"},
{"h":216.9,"p":64.091,"g":"bs","t":"Buy Entry -23.6"},
{"h":152.2,"p":67.763,"g":"bs","t":"V"},
{"h":127.9,"p":65.188,"g":"bs","t":"| V"},
{"h":89.7,"p":69.48,"g":"bl","t":"| | |"},
{"h":24.9,"p":66.8,"g":"bl","t":"|"},
{"h":22.2,"p":64.083,"g":"bl","t":"| | | 64.50176"},
{"h":231.7,"p":68.039,"g":"bl","t":"| | | 68.4887"},
{"h":244.2,"p":70.933,"g":"dl","t":"| | | 70.114"},
{"h":237.2,"p":70.994,"g":"sc","t":"Sell correction 87.5 | 71.0392"},
{"h":237.2,"p":70.233,"g":"sc","t":"Sell correction 61.8 | 70.2886"},
{"h":237.2,"p":69.542,"g":"sc","t":"Sell correction 38.2 | 69.5993"},
{"h":239.9,"p":67.305,"g":"st","t":"Sell Target1 | 67.36803"},
{"h":242.7,"p":67.123,"g":"st","t":"Sell 100 | 67.19341"},
{"h":239.9,"p":65.5,"g":"st","t":"Sell Target2 | 65.56311"},
{"h":241.2,"p":65.326,"g":"st","t":"Sell 161.8 | 65.38849"}
],
"bx":[{"p":69.94997,"t":"69.94997","k":"fsb"},{"p":68.5683,"t":"68.56830","k":"cur"},{"p":68.40147,"t":"68.40147","k":"bid"},{"p":67.36803,"t":"67.36803","k":"tg"},{"p":67.19341,"t":"67.19341","k":"tg"},{"p":65.56311,"t":"65.56311","k":"tg"},{"p":65.38849,"t":"65.38849","k":"tg"}]
},
"layer":[
{"data":{"name":"bands"},"mark":{"type":"rect"},
 "encoding":{
  "x":{"field":"h1","type":"quantitative","scale":{"domain":[-0.83,306.42],"nice":false,"zero":false},
   "axis":{"orient":"bottom","title":null,"grid":false,"values":[0,16,32,48,64,80,96,112,128,144,160,176,192,208,224,240,256],
    "labelExpr":"datum.value == 0 ? '19 Sep 2024' : utcFormat(utc(2024,8,19,8+datum.value), '%d %b %H:%M')",
    "domainColor":"#000000","tickColor":"#000000","tickSize":4,"labelAlign":"left","labelDx":1,"labelFontSize":9,"labelFont":"Liberation Sans","labelColor":"#000000","labelPadding":2,"labelOverlap":false,"labelFlush":false}},
  "x2":{"field":"h2"},
  "y":{"field":"p1","type":"quantitative","scale":{"domain":[64.031,71.797],"nice":false,"zero":false},
   "axis":{"orient":"right","title":null,"grid":false,"labels":false,"values":[71.7474,71.4636,71.1798,70.896,70.6122,70.3284,70.0446,69.7522,69.4684,69.1846,68.9008,68.617,68.3332,68.0494,67.757,67.4732,67.1894,66.9056,66.6218,66.338,66.0542,65.7618,65.478,65.1942,64.9104,64.6266,64.3428,64.059],
    "domainColor":"#000000","tickColor":"#000000","tickSize":4}},
  "y2":{"field":"p2"},
  "color":{"field":"k","type":"nominal","legend":null,"scale":{"domain":["green","orange","salmon","lime","green2","gray","slate","green3"],"range":["#49bf3d","#d69a58","#fa8072","#7cfc00","#62d423","#e2e2e2","#7f8fa0","#55c92c"]}}}},
{"data":{"name":"wm"},"transform":[{"filter":"datum.k == 'b'"}],"mark":{"type":"text","align":"left","baseline":"middle","fontSize":120,"fontWeight":"bold","font":"Liberation Sans","color":"#9a9a9a","opacity":0.38},
 "encoding":{"x":{"field":"h","type":"quantitative"},"y":{"field":"p","type":"quantitative"},"text":{"field":"t"}}},
{"data":{"name":"wm"},"transform":[{"filter":"datum.k == 'n'"}],"mark":{"type":"text","align":"left","baseline":"middle","fontSize":88,"fontWeight":"normal","font":"Liberation Sans","color":"#9a9a9a","opacity":0.38},
 "encoding":{"x":{"field":"h","type":"quantitative"},"y":{"field":"p","type":"quantitative"},"text":{"field":"t"}}},
{"data":{"name":"vl"},"transform":[{"filter":"datum.k == 'gr'"}],"mark":{"type":"rule","color":"#b5b5b5","strokeWidth":1,"strokeDash":[4,4]},
 "encoding":{"x":{"field":"h","type":"quantitative"}}},
{"data":{"name":"vl"},"transform":[{"filter":"datum.k == 'mv'"}],"mark":{"type":"rule","color":"#c71585","strokeWidth":1,"strokeDash":[8,3,2,3]},
 "encoding":{"x":{"field":"h","type":"quantitative"}}},
{"data":{"name":"lv"},"transform":[{"filter":"datum.k == 'fsb'"}],"mark":{"type":"rule","color":"#0000ff","strokeWidth":1,"strokeDash":[14,7]},
 "encoding":{"y":{"field":"p","type":"quantitative"}}},
{"data":{"name":"lv"},"transform":[{"filter":"datum.k == 'cur'"}],"mark":{"type":"rule","color":"#dd0000","strokeWidth":1},
 "encoding":{"y":{"field":"p","type":"quantitative"}}},
{"data":{"name":"lv"},"transform":[{"filter":"datum.k == 'bid'"}],"mark":{"type":"rule","color":"#778899","strokeWidth":1},
 "encoding":{"y":{"field":"p","type":"quantitative"}}},
{"data":{"name":"lv"},"transform":[{"filter":"datum.k == 'tg'"}],"mark":{"type":"rule","color":"#a52a2a","strokeWidth":1,"strokeDash":[4,3]},
 "encoding":{"y":{"field":"p","type":"quantitative"}}},
{"data":{"name":"cd"},"mark":{"type":"rule","color":"#000000","strokeWidth":1},
 "encoding":{"x":{"field":"h","type":"quantitative"},"y":{"field":"lo","type":"quantitative"},"y2":{"field":"hi"}}},
{"data":{"name":"cd"},"mark":{"type":"bar","size":3,"stroke":"#000000","strokeWidth":1},
 "encoding":{"x":{"field":"h","type":"quantitative"},"y":{"field":"o","type":"quantitative"},"y2":{"field":"c"},
  "color":{"condition":{"test":"datum.c >= datum.o","value":"#3cb371"},"value":"#b22234"}}},
{"data":{"name":"stl"},"mark":{"type":"line","color":"#ff4500","strokeWidth":1,"strokeDash":[3,2]},
 "encoding":{"x":{"field":"h","type":"quantitative"},"y":{"field":"p","type":"quantitative"},"order":{"field":"k","type":"quantitative"}}},
{"data":{"name":"ma"},"mark":{"type":"line","strokeWidth":3.2},
 "encoding":{"x":{"field":"h","type":"quantitative"},"y":{"field":"p","type":"quantitative"},
  "color":{"field":"s","type":"nominal","legend":null,"scale":{"domain":["g","k","r"],"range":["#33cc33","#000000","#a52a2a"]}}}},
{"data":{"name":"abc"},"mark":{"type":"line","color":"#ff0000","strokeWidth":3},
 "encoding":{"x":{"field":"h","type":"quantitative"},"y":{"field":"p","type":"quantitative"},"detail":{"field":"s"}}},
{"data":{"name":"st"},"transform":[{"filter":"datum.k == 's'"}],"mark":{"type":"point","shape":"M0,-1L0.24,-0.33L0.95,-0.31L0.38,0.12L0.59,0.81L0,0.4L-0.59,0.81L-0.38,0.12L-0.95,-0.31L-0.24,-0.33Z","filled":true,"size":110,"color":"#9ae62a","opacity":1},
 "encoding":{"x":{"field":"h","type":"quantitative"},"y":{"field":"p","type":"quantitative"}}},
{"data":{"name":"st"},"transform":[{"filter":"datum.k == 'x'"}],"mark":{"type":"point","shape":"cross","angle":45,"filled":true,"size":70,"color":"#cd853f","opacity":1},
 "encoding":{"x":{"field":"h","type":"quantitative"},"y":{"field":"p","type":"quantitative"}}},
{"data":{"name":"ar"},"transform":[{"filter":"datum.d == 'up'"}],"mark":{"type":"point","shape":"M0,-1L0.9,0L0.35,0L0.35,1L-0.35,1L-0.35,0L-0.9,0Z","filled":true,"size":170,"color":"#0000ff","opacity":1},
 "encoding":{"x":{"field":"h","type":"quantitative"},"y":{"field":"p","type":"quantitative"}}},
{"data":{"name":"ar"},"transform":[{"filter":"datum.d == 'dn'"}],"mark":{"type":"point","shape":"M0,1L0.9,0L0.35,0L0.35,-1L-0.35,-1L-0.35,0L-0.9,0Z","filled":true,"size":170,"color":"#ff0000","opacity":1},
 "encoding":{"x":{"field":"h","type":"quantitative"},"y":{"field":"p","type":"quantitative"}}},
{"data":{"name":"tx"},"transform":[{"filter":"datum.g == 'info'"}],"mark":{"type":"text","align":"left","baseline":"middle","fontSize":9.3,"color":"#000000","font":"Liberation Sans"},
 "encoding":{"x":{"field":"h","type":"quantitative"},"y":{"field":"p","type":"quantitative"},"text":{"field":"t"}}},
{"data":{"name":"tx"},"transform":[{"filter":"datum.g == 'tg'"}],"mark":{"type":"text","align":"left","baseline":"middle","fontSize":12,"color":"#3f9a3f","font":"Liberation Sans"},
 "encoding":{"x":{"field":"h","type":"quantitative"},"y":{"field":"p","type":"quantitative"},"text":{"field":"t"}}},
{"data":{"name":"tx"},"transform":[{"filter":"datum.g == 'fsb'"}],"mark":{"type":"text","align":"left","baseline":"middle","fontSize":9.5,"color":"#222222","font":"Liberation Sans"},
 "encoding":{"x":{"field":"h","type":"quantitative"},"y":{"field":"p","type":"quantitative"},"text":{"field":"t"}}},
{"data":{"name":"tx"},"transform":[{"filter":"datum.g == 'bs'"}],"mark":{"type":"text","align":"left","baseline":"middle","fontSize":11,"color":"#0000ff","font":"Liberation Sans"},
 "encoding":{"x":{"field":"h","type":"quantitative"},"y":{"field":"p","type":"quantitative"},"text":{"field":"t"}}},
{"data":{"name":"tx"},"transform":[{"filter":"datum.g == 'bl'"}],"mark":{"type":"text","align":"left","baseline":"middle","fontSize":16,"color":"#0000ff","font":"Liberation Sans"},
 "encoding":{"x":{"field":"h","type":"quantitative"},"y":{"field":"p","type":"quantitative"},"text":{"field":"t"}}},
{"data":{"name":"tx"},"transform":[{"filter":"datum.g == 'dl'"}],"mark":{"type":"text","align":"left","baseline":"middle","fontSize":16.5,"color":"#1a1a1a","font":"Liberation Sans"},
 "encoding":{"x":{"field":"h","type":"quantitative"},"y":{"field":"p","type":"quantitative"},"text":{"field":"t"}}},
{"data":{"name":"tx"},"transform":[{"filter":"datum.g == 'sc'"}],"mark":{"type":"text","align":"left","baseline":"middle","fontSize":11,"color":"#2f4f4f","font":"Liberation Sans"},
 "encoding":{"x":{"field":"h","type":"quantitative"},"y":{"field":"p","type":"quantitative"},"text":{"field":"t"}}},
{"data":{"name":"tx"},"transform":[{"filter":"datum.g == 'st'"}],"mark":{"type":"text","align":"left","baseline":"middle","fontSize":12.7,"color":"#b22222","font":"Liberation Sans"},
 "encoding":{"x":{"field":"h","type":"quantitative"},"y":{"field":"p","type":"quantitative"},"text":{"field":"t"}}},
{"data":{"name":"yl"},"mark":{"type":"text","align":"left","baseline":"middle","fontSize":9,"color":"#000000","font":"Liberation Sans"},
 "encoding":{"x":{"datum":308.17},"y":{"field":"p","type":"quantitative"},"text":{"field":"t"}}},
{"data":{"name":"bx"},"mark":{"type":"rule","strokeWidth":14,"strokeCap":"butt"},
 "encoding":{"x":{"datum":306.7},"x2":{"datum":318.4},"y":{"field":"p","type":"quantitative"},
  "color":{"field":"k","type":"nominal","legend":null,"scale":{"domain":["fsb","cur","bid","tg"],"range":["#0000ff","#ff0000","#000000","#b22222"]}}}},
{"data":{"name":"bx"},"mark":{"type":"text","align":"left","baseline":"middle","fontSize":9,"color":"#ffffff","font":"Liberation Sans"},
 "encoding":{"x":{"datum":307.4},"y":{"field":"p","type":"quantitative"},"text":{"field":"t"}}}
]
}
